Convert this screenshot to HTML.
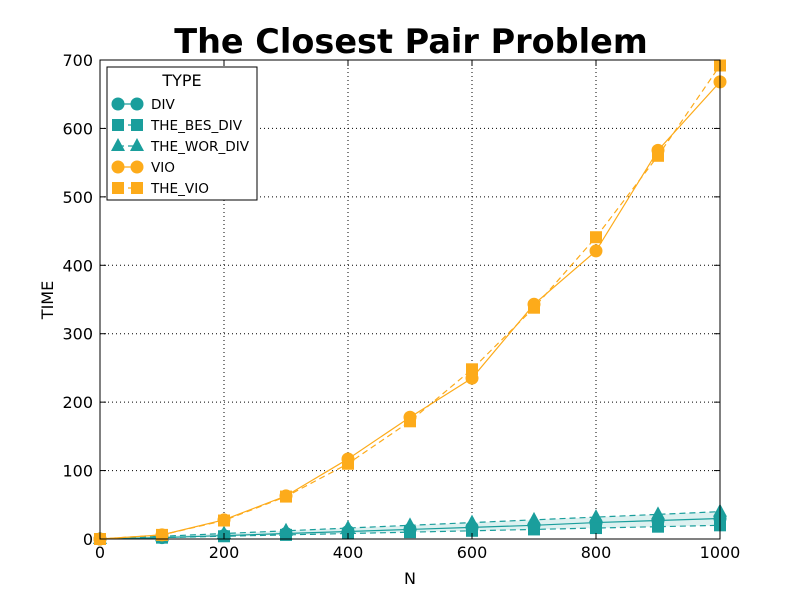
<!DOCTYPE html>
<html><head><meta charset="utf-8"><style>
body{margin:0;background:#fff;font-family:"Liberation Sans","DejaVu Sans",sans-serif}
svg text{font-family:"DejaVu Sans","Liberation Sans",sans-serif}
</style></head><body>
<svg id="chart" width="800" height="600" xmlns="http://www.w3.org/2000/svg">
<rect width="800" height="600" fill="#fff"/>
<text x="411" y="53" text-anchor="middle" font-size="33.5" font-weight="bold">The Closest Pair Problem</text>
<g id="grid"></g><g id="fill"></g><g id="series"></g>
<rect x="100" y="60" width="620" height="479" fill="none" stroke="#000" stroke-width="1"/>
<g id="ticks"></g>
<text x="410" y="584" text-anchor="middle" font-size="16">N</text>
<text x="53" y="300" text-anchor="middle" font-size="16" transform="rotate(-90 53 300)">TIME</text>
<g id="legend">
<rect x="107" y="67" width="150" height="133" fill="#fff" stroke="#000"/>
<text x="182" y="86" text-anchor="middle" font-size="16">TYPE</text>
</g>
</svg>
<script>
const categories=[0,100,200,300,400,500,600,700,800,900,1000];
const divVals=[0,2,5,8,11,14,17,20,24,27,30];
const besVals=[0,2,4,6,8,10,12,14,16,18,20];
const worVals=[0,4,8,12,16,20,24,28,32,36,40];
const vioVals=[0,6,28,63,117,178,235,343,421,568,668];
const theVioVals=[0,6,27,62,110,172,248,338,441,560,692];
const xTicks=[0,200,400,600,800,1000];
const yTicks=[0,100,200,300,400,500,600,700];
const NS="http://www.w3.org/2000/svg";
const X=v=>100+v/1000*620, Y=v=>539-v/700*479;
function mk(p,t,a){const e=document.createElementNS(NS,t);for(const k in a)e.setAttribute(k,a[k]);p.appendChild(e);return e;}
const grid=document.getElementById('grid'),ticks=document.getElementById('ticks');
xTicks.forEach(v=>{const x=X(v);
 const g=mk(grid,'line',{x1:x,x2:x,y1:60,y2:539,stroke:'#000','stroke-dasharray':'1,3','stroke-width':1});
 
 
 mk(ticks,'line',{x1:x,x2:x,y1:539,y2:533,stroke:'#000'});mk(ticks,'line',{x1:x,x2:x,y1:60,y2:66,stroke:'#000'});
 const t=mk(ticks,'text',{x:x,y:558,'text-anchor':'middle','font-size':16});t.textContent=v;
 
 });
yTicks.forEach(v=>{const y=Y(v);
 const g=mk(grid,'line',{x1:100,x2:720,y1:y,y2:y,stroke:'#000','stroke-dasharray':'1,3','stroke-width':1});
 
 
 mk(ticks,'line',{x1:100,x2:106,y1:y,y2:y,stroke:'#000'});mk(ticks,'line',{x1:714,x2:720,y1:y,y2:y,stroke:'#000'});
 const t=mk(ticks,'text',{x:93,y:y+6,'text-anchor':'end','font-size':16});t.textContent=v;
 
 });
const TEAL='#1a9e9c',ORANGE='#fdab1a';
let d=categories.map((c,i)=>(i?'L':'M')+X(c)+','+Y(worVals[i])).join('')+categories.slice().reverse().map((c,i)=>'L'+X(c)+','+Y(besVals[categories.length-1-i])).join('')+'Z';
const band=mk(document.getElementById('fill'),'path',{d:d,fill:TEAL,'fill-opacity':0.15});


function marker(g,type,x,y,c){
 if(type==='o')return mk(g,'circle',{cx:x,cy:y,r:6.5,fill:c});
 if(type==='s')return mk(g,'rect',{x:x-6,y:y-6,width:12,height:12,fill:c});
 return mk(g,'path',{d:`M${x},${y-8}L${x+7},${y+5}L${x-7},${y+5}Z`,fill:c});}
const series=[
 {name:'div',label:'DIV',vals:divVals,c:TEAL,m:'o',dash:''},
 {name:'the-bes-div',label:'THE_BES_DIV',vals:besVals,c:TEAL,m:'s',dash:'6,4'},
 {name:'the-wor-div',label:'THE_WOR_DIV',vals:worVals,c:TEAL,m:'^',dash:'6,4'},
 {name:'vio',label:'VIO',vals:vioVals,c:ORANGE,m:'o',dash:''},
 {name:'the-vio',label:'THE_VIO',vals:theVioVals,c:ORANGE,m:'s',dash:'6,4'}];
const sg=document.getElementById('series'),lg=document.getElementById('legend');
series.forEach((s,k)=>{
 const g=mk(sg,'g',{});
 
 
 mk(g,'polyline',{points:categories.map((c,i)=>X(c)+','+Y(s.vals[i])).join(' '),fill:'none',stroke:s.c,'stroke-width':1.2,'stroke-dasharray':s.dash});
 categories.forEach((c,i)=>{const m=marker(g,s.m,X(c),Y(s.vals[i]),s.c);
  
  });
 const y=104+k*21;
 const e=mk(lg,'g',{});
 
 
 mk(e,'line',{x1:118,x2:137,y1:y,y2:y,stroke:s.c,'stroke-width':1.2,'stroke-dasharray':s.dash});
 marker(e,s.m,118,y,s.c);marker(e,s.m,137,y,s.c);
 const t=mk(e,'text',{x:151,y:y+5,'font-size':13.6});t.textContent=s.label;
});
</script>
</body></html>
